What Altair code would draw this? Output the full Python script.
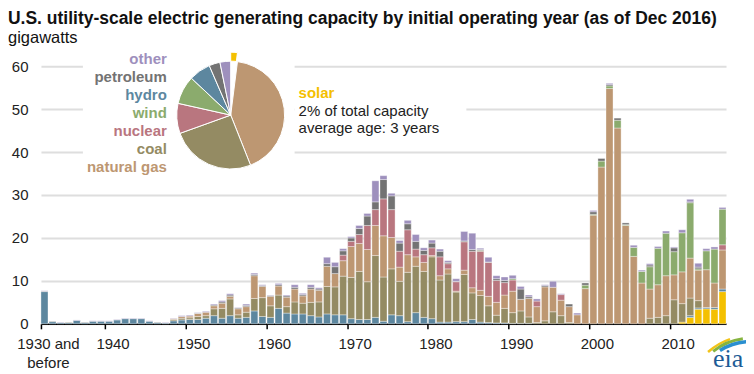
import altair as alt
import pandas as pd

FONT = "Liberation Sans"

years = list(range(1930, 2017))
fuels = ["solar", "hydro", "coal", "natural gas", "nuclear", "wind", "petroleum", "other"]
fuel_colors = ["#f4c000", "#5d879f", "#948b63", "#bd9772", "#b9767f", "#8bab6d", "#737373", "#9e90bd"]

# gigawatts by initial operating year (1930 ... 2016)
solar = [
    0, 0, 0, 0, 0, 0, 0, 0, 0, 0,
    0, 0, 0, 0, 0, 0, 0, 0, 0, 0,
    0, 0, 0, 0, 0, 0, 0, 0, 0, 0,
    0, 0, 0, 0, 0, 0, 0, 0, 0, 0,
    0, 0, 0, 0, 0, 0, 0, 0, 0, 0,
    0, 0, 0, 0, 0, 0, 0, 0, 0, 0,
    0, 0, 0, 0, 0, 0, 0, 0, 0, 0,
    0, 0, 0, 0, 0, 0, 0, 0, 0, 0,
    0, 0.4, 1.5, 3.4, 3.5, 3.4, 7.5]
hydro = [
    7.5, 0.5, 0.3, 0.0, 0.0, 0.3, 0.8, 0.3, 0.6, 0.6,
    0.6, 0.9, 1.2, 1.2, 1.2, 0.6, 0.3, 0.2, 0.7, 0.9,
    1.0, 1.0, 1.3, 1.9, 1.3, 1.9, 1.3, 1.5, 3.0, 1.7,
    1.5, 3.6, 2.5, 2.3, 2.3, 1.9, 1.6, 2.3, 2.1, 2.1,
    1.2, 1.0, 1.0, 1.5, 0.6, 2.1, 1.9, 0.5, 2.6, 1.5,
    1.2, 0.4, 0.4, 0.5, 0.5, 1.0, 0.4, 0.3, 0.2, 0.2,
    0.1, 0.1, 0.1, 0, 0, 0, 0, 0, 0, 0,
    0, 0, 0, 0, 0, 0, 0, 0, 0, 0,
    0, 0, 0.4, 0.3, 0.3, 0.4, 0.6]
coal = [
    0, 0, 0, 0, 0, 0.1, 0, 0, 0, 0,
    0, 0, 0, 0, 0, 0, 0, 0, 0.3, 0.4,
    0.4, 0.7, 0.6, 1.6, 2.3, 3.9, 0.8, 1.2, 2.9, 4.4,
    2.7, 3.1, 1.5, 2.8, 2.5, 3.1, 3.5, 6.4, 6.5, 9.0,
    9.6, 11.2, 8.8, 14.4, 10.3, 10.7, 8.0, 11.5, 10.8, 10.7,
    14.4, 9.8, 11.2, 6.9, 11.0, 6.2, 6.2, 3.9, 1.8, 3.4,
    2.5, 2.9, 1.5, 0.3, 0.7, 2.8, 1.9, 0.3, 0, 0,
    0, 0, 0, 0, 0, 0, 0, 1.3, 1.5, 1.9,
    5.6, 4.3, 4.1, 1.7, 0, 0, 0]
natural_gas = [
    0, 0, 0, 0, 0, 0, 0, 0, 0, 0,
    0, 0, 0, 0, 0, 0, 0, 0, 0.2, 0.4,
    0.4, 0.7, 0.8, 0.7, 1.2, 0.6, 1.4, 1.3, 5.3, 2.6,
    2.2, 2.1, 2.2, 3.0, 1.7, 3.1, 2.7, 4.7, 3.1, 3.6,
    7.2, 6.5, 7.5, 7.0, 9.6, 7.3, 3.3, 4.1, 2.2, 2.1,
    0.3, 1.0, 1.2, 0.2, 1.0, 1.2, 1.2, 2.2, 3.0, 3.1,
    5.0, 2.7, 4.3, 3.7, 7.9, 5.7, 3.6, 3.7, 2.1, 8.2,
    25.3, 36.5, 54.8, 45.6, 22.9, 15.7, 9.5, 6.8, 7.6, 9.3,
    5.8, 7.4, 9.3, 7.1, 8.8, 5.7, 9.1]
nuclear = [
    0, 0, 0, 0, 0, 0, 0, 0, 0, 0,
    0, 0, 0, 0, 0, 0, 0, 0, 0, 0,
    0, 0, 0, 0, 0, 0, 0, 0, 0, 0,
    0, 0, 0, 0, 0, 0, 0, 0, 0, 1.3,
    1.2, 2.1, 5.6, 3.7, 8.6, 6.5, 3.7, 5.8, 1.8, 1.8,
    1.8, 4.4, 1.2, 2.2, 6.6, 8.5, 9.1, 7.9, 5.1, 2.9,
    2.6, 0, 0, 1.3, 0, 0, 1.3, 0, 0, 0,
    0, 0, 0, 0, 0, 0, 0, 0, 0, 0,
    0, 0, 0, 0, 0, 0, 1.2]
wind = [
    0, 0, 0, 0, 0, 0, 0, 0, 0, 0,
    0, 0, 0, 0, 0, 0, 0, 0, 0, 0,
    0, 0, 0, 0, 0, 0, 0, 0, 0, 0,
    0, 0, 0, 0, 0, 0, 0, 0, 0, 0,
    0, 0, 0, 0, 0, 0, 0, 0, 0, 0,
    0, 0, 0, 0, 0, 0, 0.2, 0, 0, 0,
    0.3, 0, 0, 0, 0, 0, 0, 0, 0, 0.8,
    0.2, 1.4, 0.6, 1.8, 0.2, 2.1, 2.7, 5.2, 8.5, 9.9,
    5.4, 9.1, 12.9, 0.3, 4.4, 7.9, 8.3]
petroleum = [
    0.1, 0.1, 0, 0, 0, 0, 0, 0.1, 0, 0,
    0, 0, 0, 0, 0, 0, 0.1, 0, 0, 0,
    0, 0.1, 0, 0.2, 0.3, 0.3, 0.2, 0.3, 0.3, 0.2,
    0.2, 0.3, 0.3, 0.4, 0.3, 0.4, 0.3, 0.6, 1.6, 1.0,
    0.8, 1.4, 2.2, 1.8, 4.5, 3.2, 1.9, 1.4, 1.8, 1.0,
    1.1, 1.3, 0.3, 0.1, 0.2, 0.4, 0.2, 0.1, 0.4, 0.5,
    0, 2.4, 0.4, 0, 0.3, 0, 0, 0.6, 0, 0.5,
    0.6, 0.6, 0.3, 0.5, 0.4, 0, 0, 0.4, 0, 0,
    0.9, 0, 0.2, 0.4, 0, 0, 0]
other = [
    0.1, 0, 0.1, 0, 0, 0, 0.1, 0, 0.1, 0.1,
    0.1, 0.1, 0.1, 0.1, 0.1, 0.1, 0, 0.1, 0.1, 0.2,
    0.2, 0.1, 0.2, 0.2, 0.3, 0.3, 0.1, 0.3, 0.3, 0.2,
    0.1, 0.3, 0.2, 0.6, 0.3, 0.6, 0.3, 1.5, 1.0, 0.5,
    0.3, 0.7, 0.6, 4.9, 0.9, 0.6, 0.6, 0.8, 1.6, 0.6,
    0.7, 0.5, 0.4, 0.6, 2.2, 3.8, 0.3, 1.1, 0.7, 0.8,
    0.8, 0.6, 0.4, 0.5, 0.2, 1.4, 0.2, 0, 0.4, 0,
    0.3, 0, 0.3, 0, 0, 0.5, 0.3, 0.3, 0.4, 0.5,
    0.2, 0.7, 0.6, 0.9, 0.5, 0.5, 0.4]

# share of total capacity (pie), clockwise from 12 o'clock
pie_fuels = ["solar", "natural gas", "coal", "nuclear", "wind", "hydro", "petroleum", "other"]
pie_share = [2.0, 42.0, 25.5, 9.0, 8.5, 6.5, 3.3, 3.2]

legend_labels = ["other", "petroleum", "hydro", "wind", "nuclear", "coal", "natural gas"]
tick_years = [1930, 1940, 1950, 1960, 1970, 1980, 1990, 2000, 2010]
y_ticks = [0, 10, 20, 30, 40, 50, 60]

title_text = "U.S. utility-scale electric generating capacity by initial operating year (as of Dec 2016)"
unit_text = "gigawatts"
solar_note = ["2% of total capacity", "average age: 3 years"]

series = {"solar": solar, "hydro": hydro, "coal": coal, "natural gas": natural_gas,
          "nuclear": nuclear, "wind": wind, "petroleum": petroleum, "other": other}
rows = []
for fi, f in enumerate(fuels):
    vals = series[f]
    assert len(vals) == len(years), f
    for yr, v in zip(years, vals):
        rows.append({"year": yr, "fuel": f, "ord": fi, "gw": v})
bars_df = pd.DataFrame(rows)
pie_df = pd.DataFrame({"fuel": pie_fuels, "share": pie_share, "ord": list(range(len(pie_fuels)))})
one = pd.DataFrame({"k": [0]})

color_scale = alt.Scale(domain=fuels, range=fuel_colors)
color_of = dict(zip(fuels, fuel_colors))

x_enc = alt.X(
    "year:O",
    scale=alt.Scale(paddingInner=0.13, paddingOuter=0),
    axis=alt.Axis(
        values=tick_years,
        labelExpr="datum.value == 1930 ? ['1930 and', 'before'] : datum.label",
        bandPosition=0, labelOffset=4, labelAngle=0, tickSize=5, tickColor="#000",
        tickWidth=1.5, domainColor="#000", domainWidth=1.5, labelFontSize=15,
        labelPadding=8, labelLineHeight=19, labelColor="#222", labelFont=FONT,
        title=None, grid=False),
)
y_enc = alt.Y(
    "gw:Q", stack="zero",
    scale=alt.Scale(domain=[0, 60], nice=False),
    axis=alt.Axis(values=y_ticks, grid=True, gridColor="#dedede", gridWidth=2,
                  domain=False, ticks=False, labelFontSize=15, labelPadding=13,
                  labelColor="#222", labelFont=FONT, title=None),
)

# white panels that interrupt the gridlines behind the pie and the note
mask1 = alt.Chart(one).mark_rect(color="white").encode(
    x=alt.value(42), x2=alt.value(254), y=alt.value(-6), y2=alt.value(100))
mask2 = alt.Chart(one).mark_rect(color="white").encode(
    x=alt.value(254), x2=alt.value(426), y=alt.value(20), y2=alt.value(70))

bars = alt.Chart(bars_df).transform_filter("datum.gw > 0").mark_bar(
    stroke="white", strokeWidth=0.5, strokeOpacity=0.7
).encode(
    x=x_enc, y=y_enc,
    color=alt.Color("fuel:N", scale=color_scale, legend=None),
    order=alt.Order("ord:Q", sort="ascending"),
)

theta = alt.Theta("share:Q", stack=True)
pie_solar = alt.Chart(pie_df).mark_arc(outerRadius=54, stroke="white", strokeWidth=1).encode(
    theta=theta, order=alt.Order("ord:Q", sort="ascending"),
    color=alt.Color("fuel:N", scale=color_scale, legend=None),
    opacity=alt.condition("datum.fuel == 'solar'", alt.value(1), alt.value(0)),
    x=alt.value(190), y=alt.value(40),
)
pie_main = alt.Chart(pie_df).mark_arc(outerRadius=54, stroke="white", strokeWidth=1).encode(
    theta=theta, order=alt.Order("ord:Q", sort="ascending"),
    color=alt.condition("datum.fuel == 'solar'", alt.value("white"),
                        alt.Color("fuel:N", scale=color_scale, legend=None)),
    x=alt.value(190), y=alt.value(49),
)

layers = [mask1, mask2, bars, pie_solar, pie_main]

for i, name in enumerate(legend_labels):
    layers.append(
        alt.Chart(one).mark_text(align="right", baseline="middle", font=FONT, fontSize=15,
                                 fontWeight="bold", color=color_of[name]).encode(
            x=alt.value(126), y=alt.value(-7 + 18 * i), text=alt.value(name)))

layers.append(alt.Chart(one).mark_text(align="left", baseline="middle", font=FONT, fontSize=15,
                                       fontWeight="bold", color=color_of["solar"]).encode(
    x=alt.value(258), y=alt.value(27), text=alt.value("solar")))
for j, line in enumerate(solar_note):
    layers.append(alt.Chart(one).mark_text(align="left", baseline="middle", font=FONT,
                                           fontSize=15, color="#222").encode(
        x=alt.value(258), y=alt.value(45 + 17 * j), text=alt.value(line)))

layers.append(alt.Chart(one).mark_text(align="left", baseline="alphabetic", font=FONT,
                                       fontSize=17.5, fontWeight="bold", color="#111").encode(
    x=alt.value(-33), y=alt.value(-42), text=alt.value(title_text)))
layers.append(alt.Chart(one).mark_text(align="left", baseline="alphabetic", font=FONT,
                                       fontSize=16.5, color="#111").encode(
    x=alt.value(-33), y=alt.value(-23), text=alt.value(unit_text)))

# eia logo
for c, t1, t2, r1, r2 in [("#f2c318", 5.55, 5.95, 63, 65.5), ("#86b440", 5.62, 6.15, 60, 63),
                          ("#2a8fd0", 5.72, 6.28, 56.5, 60)]:
    layers.append(alt.Chart(one).mark_arc(color=c, theta=t1, theta2=t2, radius=r1, radius2=r2).encode(
        x=alt.value(711), y=alt.value(334)))
layers.append(alt.Chart(one).mark_text(align="center", baseline="alphabetic", font="Liberation Serif",
                                       fontSize=26, color="#1d5b96").encode(
    x=alt.value(688), y=alt.value(301), text=alt.value("eia")))

chart = alt.layer(*layers).properties(
    width=686, height=258,
    autosize=alt.AutoSizeParams(type="none"),
    padding={"left": 33, "top": 58, "right": 20, "bottom": 50},
).configure_view(strokeWidth=0)

chart.save("out.html", embed_options={"renderer": "svg", "actions": False})
